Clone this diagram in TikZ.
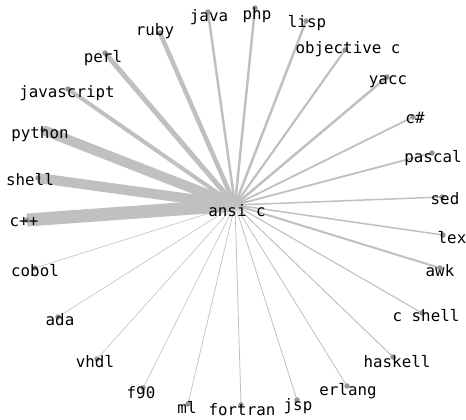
\documentclass[tikz,border=0pt]{standalone}
\usepackage{fontspec}
\newfontfamily\langfont{DejaVu Sans Mono}
\usepackage{tikz}
\usetikzlibrary{backgrounds}
\definecolor{edgegray}{RGB}{192,192,192}
\definecolor{dotgray}{RGB}{150,150,150}

\tikzset{
    dot/.style={circle, fill=dotgray, inner sep=0pt, minimum size=5.5pt},
    lang/.style={font=\langfont\fontsize{15.8}{18}\selectfont, inner sep=0pt, text height=1.5ex, text depth=.25ex, anchor=center, yshift=-3pt},
    tie/.style={draw=edgegray, line cap=butt}
}

\begin{document}
\begin{tikzpicture}[x=1pt, y=-1pt]
    % Page frame, same proportions as the reference
    \useasboundingbox (0,0) rectangle (466,420);

    % Hub and its label
    \coordinate (hub) at (235,205);
    \node[lang] (ansi) at (237,211) {ansi c};

    % Languages: dot, then label
    \node[dot] (java) at (208,12) {};          \node[lang] (java-t) at (209,16) {java};
    \node[dot] (php) at (255,8) {};            \node[lang] (php-t) at (257,14) {php};
    \node[dot] (lisp) at (306,21) {};          \node[lang] (lisp-t) at (307,22) {lisp};
    \node[dot] (objc) at (345,50) {};          \node[lang] (objc-t) at (348,48) {objective c};
    \node[dot] (yacc) at (387,77) {};          \node[lang] (yacc-t) at (388,79) {yacc};
    \node[dot] (csharp) at (413,117) {};       \node[lang] (csharp-t) at (415,118) {c\#};
    \node[dot] (pascal) at (432,153) {};       \node[lang] (pascal-t) at (433,157) {pascal};
    \node[dot] (sed) at (442,197) {};          \node[lang] (sed-t) at (445,199) {sed};
    \node[dot] (lex) at (443,235) {};          \node[lang] (lex-t) at (452,238) {lex};
    \node[dot] (awk) at (440,268) {};          \node[lang] (awk-t) at (440,271) {awk};
    \node[dot] (cshell) at (422,313) {};       \node[lang] (cshell-t) at (426,316) {c shell};
    \node[dot] (haskell) at (393,357) {};      \node[lang] (haskell-t) at (397,362) {haskell};
    \node[dot] (erlang) at (347,386) {};       \node[lang] (erlang-t) at (348,390) {erlang};
    \node[dot] (jsp) at (297,400) {};          \node[lang] (jsp-t) at (298,405) {jsp};
    \node[dot] (fortran) at (241,405) {};      \node[lang] (fortran-t) at (242,410) {fortran};
    \node[dot] (ml) at (188,404) {};           \node[lang] (ml-t) at (187,408) {ml};
    \node[dot] (ffortran) at (143,388) {};     \node[lang] (ffortran-t) at (141,393) {f90};
    \node[dot] (vhdl) at (97,359) {};          \node[lang] (vhdl-t) at (95,362) {vhdl};
    \node[dot] (ada) at (58,317) {};           \node[lang] (ada-t) at (60,320) {ada};
    \node[dot] (cobol) at (35,268) {};         \node[lang] (cobol-t) at (35,271) {cobol};
    \node[dot] (cpp) at (27,220) {};           \node[lang] (cpp-t) at (24,221) {c++};
    \node[dot] (shell) at (38,178) {};         \node[lang] (shell-t) at (30,180) {shell};
    \node[dot] (python) at (43,130) {};        \node[lang] (python-t) at (40,133) {python};
    \node[dot] (js) at (68,89) {};             \node[lang] (js-t) at (67,92) {javascript};
    \node[dot] (perl) at (105,53) {};          \node[lang] (perl-t) at (103,57) {perl};
    \node[dot] (ruby) at (160,33) {};          \node[lang] (ruby-t) at (155,30) {ruby};

    % Ties to the hub, width by weight
    \begin{scope}[on background layer]
    \draw[tie, line width=2.5] (hub) -- (java.center);
    \draw[tie, line width=2.5] (hub) -- (php.center);
    \draw[tie, line width=2.5] (hub) -- (lisp.center);
    \draw[tie, line width=2.2] (hub) -- (objc.center);
    \draw[tie, line width=2.5] (hub) -- (yacc.center);
    \draw[tie, line width=1.8] (hub) -- (csharp.center);
    \draw[tie, line width=1.8] (hub) -- (pascal.center);
    \draw[tie, line width=1.5] (hub) -- (sed.center);
    \draw[tie, line width=1.5] (hub) -- (lex.center);
    \draw[tie, line width=2] (hub) -- (awk.center);
    \draw[tie, line width=1.1] (hub) -- (cshell.center);
    \draw[tie, line width=1] (hub) -- (haskell.center);
    \draw[tie, line width=0.8] (hub) -- (erlang.center);
    \draw[tie, line width=0.8] (hub) -- (jsp.center);
    \draw[tie, line width=0.8] (hub) -- (fortran.center);
    \draw[tie, line width=0.7] (hub) -- (ml.center);
    \draw[tie, line width=0.6] (hub) -- (ffortran.center);
    \draw[tie, line width=0.6] (hub) -- (vhdl.center);
    \draw[tie, line width=0.6] (hub) -- (ada.center);
    \draw[tie, line width=0.6] (hub) -- (cobol.center);
    \draw[tie, line width=13] (hub) -- (cpp.center);
    \draw[tie, line width=10] (hub) -- (shell.center);
    \draw[tie, line width=10] (hub) -- (python.center);
    \draw[tie, line width=4] (hub) -- (js.center);
    \draw[tie, line width=5] (hub) -- (perl.center);
    \draw[tie, line width=4.5] (hub) -- (ruby.center);
    \end{scope}
\end{tikzpicture}
\end{document}
